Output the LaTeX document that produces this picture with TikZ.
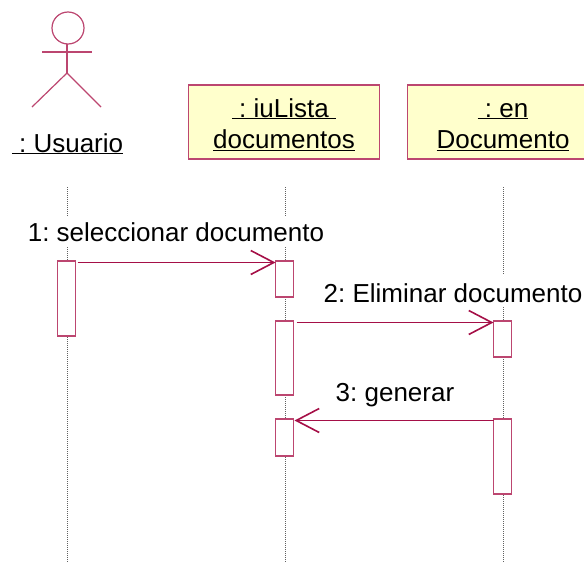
\documentclass[tikz,border=0pt]{standalone}
\usepackage{fontspec}
\setmainfont{Liberation Sans}
\usetikzlibrary{arrows.meta}
\definecolor{umlline}{HTML}{A50F47}
\definecolor{umlbox}{HTML}{BC4670}
\definecolor{umlfill}{HTML}{FFFFCC}
\tikzset{
  objbox/.style={draw=umlbox, fill=umlfill, line width=1.2pt, minimum width=191pt, minimum height=74pt, inner sep=0pt, outer sep=0pt, align=center, text height=60pt, text depth=7pt},
  activ/.style={draw=umlbox, fill=white, line width=1.2pt, minimum width=18pt, inner sep=0pt, outer sep=0pt},
  lifeline/.style={gray!75!black, line width=1pt, dash pattern=on 1pt off 1pt},
  limb/.style={draw=umlbox, line width=1.2pt},
  msg/.style={draw=umlline, line width=1.2pt, -{Straight Barb[length=23pt,width=24pt,line width=1.6pt]}},
  msglabel/.style={fill=white, inner sep=0pt, anchor=base, text height=25pt, text depth=6pt},
  every node/.style={font=\fontsize{26}{31.5}\selectfont}
}
\begin{document}
\begin{tikzpicture}[x=1pt,y=-1pt]
\useasboundingbox (0,0) rectangle (584,562);
\clip (0,0) rectangle (584,562);
\coordinate (topA) at (67.5,187);
\coordinate (topB) at (285.5,187);
\coordinate (topC) at (503.5,187);
\coordinate (endA) at (67.5,562);
\coordinate (endB) at (285.5,562);
\coordinate (endC) at (503.5,562);
\draw[lifeline] (topA) -- (endA);
\draw[lifeline] (topB) -- (endB);
\draw[lifeline] (topC) -- (endC);
\node[circle, draw=umlbox, line width=1.2pt, minimum size=32pt, inner sep=0pt, outer sep=0pt] (head) at (68,28) {};
\coordinate (neck) at (67,44);
\coordinate (hip) at (67,73);
\coordinate (handL) at (42,52);
\coordinate (handR) at (92,52);
\coordinate (footL) at (32,107);
\coordinate (footR) at (101,107);
\draw[limb] (neck) -- (hip);
\draw[limb] (handL) -- (handR);
\draw[limb] (footL) -- (hip) -- (footR);
\node[anchor=base] (usuario) at (67.5,152) {\underline{\ :\ Usuario}};
\node[objbox] (lista) at (284,122) {\underline{\ :\ iuLista\ }\\\underline{documentos}};
\node[objbox] (doc) at (503,122) {\underline{\ :\ en}\\\underline{Documento}};
\node[msglabel] (lab1) at (176,241) {1:\ seleccionar documento};
\node[msglabel, text height=27pt, text depth=5pt] (lab2) at (453,302) {2:\ Eliminar documento};
\node[msglabel] (lab3) at (395,401) {3:\ generar};
\node[activ, minimum height=75pt] (actA) at (66.5,298.5) {};
\node[activ, minimum height=36pt] (actB1) at (284.5,279) {};
\node[activ, minimum height=74pt] (actB2) at (284.5,358) {};
\node[activ, minimum height=37pt] (actB3) at (284.5,437.5) {};
\node[activ, minimum height=36pt] (actC1) at (502.5,339) {};
\node[activ, minimum height=75pt] (actC2) at (502.5,456.5) {};
\draw[msg] ([shift={(2,1.5)}]actA.north east) -- ([shift={(0,1.5)}]actB1.north west);
\draw[msg] ([shift={(3,1.5)}]actB2.north east) -- ([shift={(0,1.5)}]actC1.north west);
\draw[msg] ([shift={(0,1.5)}]actC2.north west) -- ([shift={(1,1.5)}]actB3.north east);
\end{tikzpicture}
\end{document}
